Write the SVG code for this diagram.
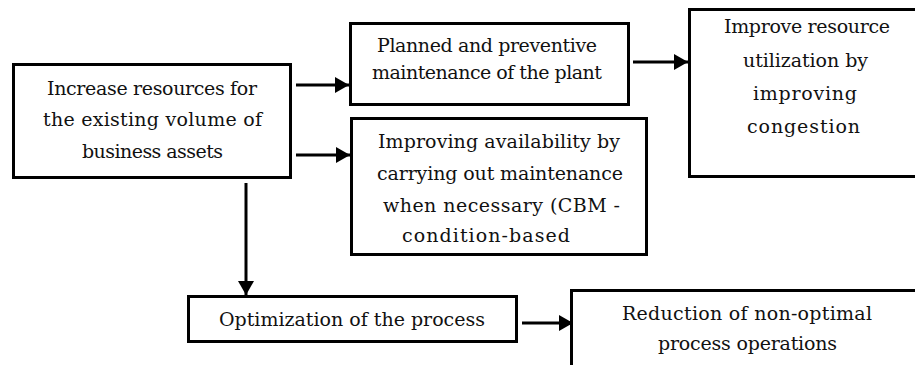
<svg xmlns="http://www.w3.org/2000/svg" width="915" height="365" viewBox="0 0 915 365">
  <style>
    .box { fill: #ffffff; stroke: #000000; stroke-width: 3; }
    text { font-family: 'DejaVu Serif', 'Liberation Serif', serif; font-size: 19px; fill: #111111; }
    .wire { stroke: #000000; stroke-width: 3; fill: none; marker-end: url(#head); }
  </style>
  <defs>
    <!-- solid triangular arrowhead, tip at the end of each connector -->
    <marker id="head" markerUnits="userSpaceOnUse" markerWidth="14" markerHeight="16" refX="14" refY="8" orient="auto">
      <path d="M0,0 L14,8 L0,16 z" fill="#000000"/>
    </marker>
  </defs>
  <rect width="915" height="365" fill="#ffffff"/>

  <g id="node-increase">
    <rect class="box" x="13.5" y="64.5" width="277" height="113"/>
    <text x="47" y="95" textLength="210" lengthAdjust="spacing">Increase resources  for</text>
    <text x="43" y="126" textLength="219" lengthAdjust="spacing">the existing volume of</text>
    <text x="82" y="158" textLength="141" lengthAdjust="spacing">business assets</text>
  </g>

  <g id="node-planned">
    <rect class="box" x="350.5" y="23.5" width="278" height="81"/>
    <text x="377" y="52" textLength="220" lengthAdjust="spacing">Planned and preventive</text>
    <text x="372" y="79" textLength="230" lengthAdjust="spacing">maintenance of the plant</text>
  </g>

  <g id="node-utilization">
    <rect class="box" x="689.5" y="9.5" width="233" height="167"/>
    <text x="724" y="33" textLength="166" lengthAdjust="spacing">Improve resource</text>
    <text x="743" y="67" textLength="125" lengthAdjust="spacing">utilization by</text>
    <text x="753" y="100" textLength="104" lengthAdjust="spacing">improving</text>
    <text x="747" y="133" textLength="113" lengthAdjust="spacing">congestion</text>
  </g>

  <g id="node-availability">
    <rect class="box" x="351.5" y="118.5" width="295" height="136"/>
    <text x="378" y="148" textLength="242" lengthAdjust="spacing">Improving availability by</text>
    <text x="377" y="180" textLength="246" lengthAdjust="spacing">carrying out maintenance</text>
    <text x="383" y="212" textLength="237" lengthAdjust="spacing">when necessary (CBM -</text>
    <text x="402" y="242" textLength="168" lengthAdjust="spacing">condition-based</text>
  </g>

  <g id="node-optimization">
    <rect class="box" x="188.5" y="296.5" width="328" height="45"/>
    <text x="219" y="326" textLength="266" lengthAdjust="spacing">Optimization of the process</text>
  </g>

  <g id="node-reduction">
    <rect class="box" x="571.5" y="290.5" width="360" height="100"/>
    <text x="622" y="320" textLength="250" lengthAdjust="spacing">Reduction of non-optimal</text>
    <text x="658" y="350" textLength="179" lengthAdjust="spacing">process operations</text>
  </g>

  <g id="connectors">
    <line class="wire" x1="296" y1="85" x2="349" y2="85"/>
    <line class="wire" x1="296" y1="155" x2="350" y2="155"/>
    <line class="wire" x1="633" y1="62" x2="688" y2="62"/>
    <line class="wire" x1="246" y1="183" x2="246" y2="295"/>
    <line class="wire" x1="522" y1="323" x2="573" y2="323"/>
  </g>
</svg>
